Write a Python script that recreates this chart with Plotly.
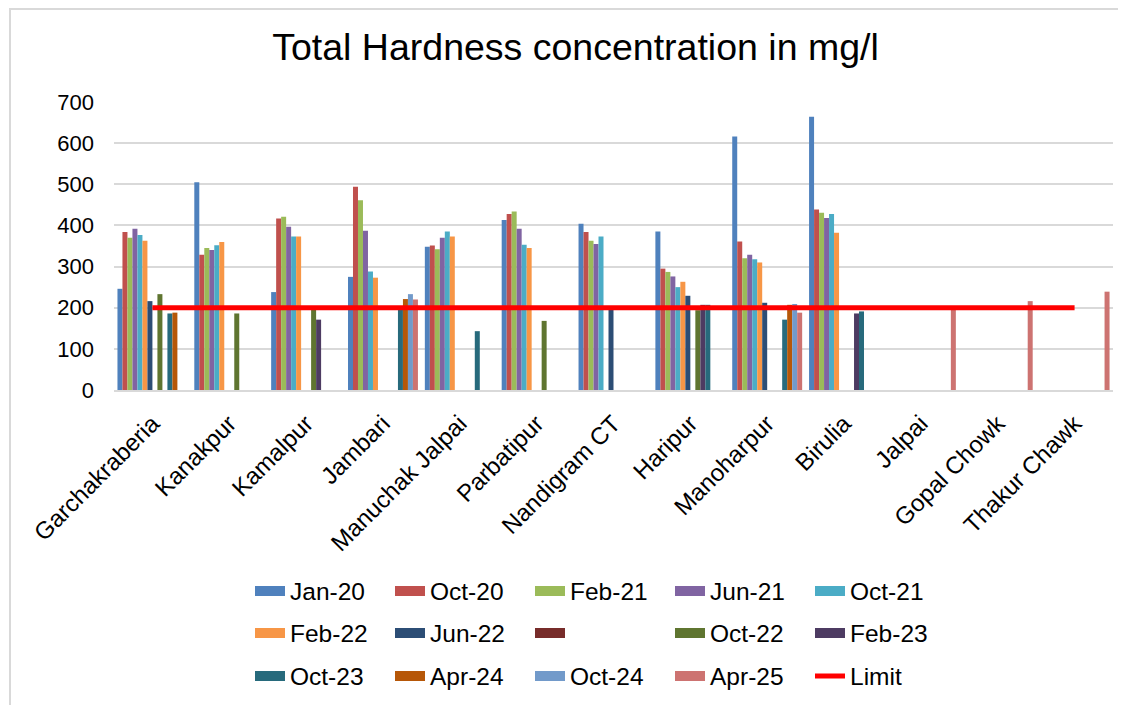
import plotly.graph_objects as go

categories = ["Garchakraberia", "Kanakpur", "Kamalpur", "Jambari", "Manuchak Jalpai",
              "Parbatipur", "Nandigram CT", "Haripur", "Manoharpur", "Birulia",
              "Jalpai", "Gopal Chowk", "Thakur Chawk"]

N = None
jan_20 = [246, 505, 238, 275, 348, 413, 404, 385, 616, 664, N, N, N]
oct_20 = [384, 329, 417, 494, 351, 428, 384, 295, 361, 439, N, N, N]
feb_21 = [370, 345, 421, 461, 342, 434, 363, 287, 320, 431, N, N, N]
jun_21 = [392, 340, 397, 387, 370, 392, 355, 276, 329, 418, N, N, N]
oct_21 = [377, 352, 373, 288, 385, 353, 373, 250, 318, 428, N, N, N]
feb_22 = [363, 360, 373, 273, 373, 345, N, 263, 310, 382, N, N, N]
jun_22 = [216, N, N, N, N, N, 195, 229, 212, N, N, N, N]
blank_series = [N, N, N, N, N, N, N, N, N, N, N, N, N]
oct_22 = [233, 186, 196, N, N, 168, N, 194, N, N, N, N, N]
feb_23 = [N, N, 171, N, N, N, N, 207, N, 186, N, N, N]
oct_23 = [186, N, N, 195, 143, N, N, 207, 171, 191, N, N, N]
apr_24 = [188, N, N, 221, N, N, N, N, 207, N, N, N, N]
oct_24 = [N, N, N, 233, N, N, N, N, 209, N, N, N, N]
apr_25 = [N, N, N, 220, N, N, N, N, 188, N, 196, 216, 239]
limit = [200, 200, 200, 200, 200, 200, 200, 200, 200, 200, 200, 200, 200]

series_names = ["Jan-20", "Oct-20", "Feb-21", "Jun-21", "Oct-21",
                "Feb-22", "Jun-22", " ", "Oct-22", "Feb-23",
                "Oct-23", "Apr-24", "Oct-24", "Apr-25"]
series_values = [jan_20, oct_20, feb_21, jun_21, oct_21,
                 feb_22, jun_22, blank_series, oct_22, feb_23,
                 oct_23, apr_24, oct_24, apr_25]
colors = ["#4F81BD", "#C0504D", "#9BBB59", "#8064A2", "#4BACC6",
          "#F79646", "#2C4D75", "#772C2A", "#5F7530", "#4D3B62",
          "#276A7C", "#B65708", "#729ACA", "#CD7371"]
legend_rows = ["legend"] * 5 + ["legend2"] * 5 + ["legend3"] * 4

FONT = "Liberation Sans, Arial, sans-serif"

fig = go.Figure()
for name, vals, col in zip(series_names, series_values, colors):
    fig.add_trace(go.Bar(x=categories, y=vals, name=name, marker=dict(color=col, line=dict(width=0)),
                         showlegend=False))

# legend swatches
for name, col, lg in zip(series_names, colors, legend_rows):
    fig.add_trace(go.Scatter(x=[None], y=[None], mode="lines", name=name,
                             line=dict(color=col, width=10), legend=lg, showlegend=True))

fig.add_trace(go.Scatter(x=categories, y=limit, mode="lines", name="Limit",
                         line=dict(color="#FF0000", width=5), legend="legend3"))

OFF = 8  # page offset of the figure inside the browser window
W, H = 1126 - OFF, 705 - OFF
L, R, T, B = 114 - OFF, 13, 102 - OFF, 315
pw, ph = W - L - R, H - T - B

def px_x(sx):
    return (sx - OFF - L) / pw

def px_y(sy):
    return (H - B - (sy - OFF)) / ph

leg_common = dict(orientation="h", xanchor="left", yanchor="middle",
                  font=dict(family=FONT, size=24.5, color="#000000"),
                  entrywidth=95, entrywidthmode="pixels", itemwidth=30,
                  bgcolor="rgba(0,0,0,0)", traceorder="normal")

fig.update_layout(
    width=W, height=H,
    margin=dict(l=L, r=R, t=T, b=B, autoexpand=False),
    paper_bgcolor="white", plot_bgcolor="white",
    barmode="group", bargap=0.09, bargroupgap=0,
    font=dict(family=FONT, size=22, color="#000000"),
    title=dict(text="Total Hardness concentration in mg/l", x=(575.5 - OFF) / W, xanchor="center",
               y=1 - (47 - OFF) / H, yanchor="middle",
               font=dict(family=FONT, size=37.5, color="#000000")),
    xaxis=dict(type="category", tickangle=-45, showgrid=False, showline=True, linecolor="#D9D9D9",
               linewidth=2, ticks="", ticklabelstandoff=8,
               tickfont=dict(family=FONT, size=24, color="#000000")),
    yaxis=dict(range=[0, 700], dtick=100, showgrid=True, gridcolor="#D9D9D9", gridwidth=1.5,
               zeroline=False, ticks="", ticklabelstandoff=19,
               tickfont=dict(family=FONT, size=22, color="#000000")),
    legend=dict(x=px_x(250), y=px_y(591), **leg_common),
    legend2=dict(x=px_x(250), y=px_y(633), **leg_common),
    legend3=dict(x=px_x(250), y=px_y(676), **leg_common),
    shapes=[dict(type="rect", xref="paper", yref="paper", x0=px_x(10), x1=px_x(1300),
                 y0=px_y(900), y1=px_y(9), line=dict(color="#D9D9D9", width=2),
                 fillcolor="rgba(0,0,0,0)", layer="below")],
)

fig.write_html("out.html")
